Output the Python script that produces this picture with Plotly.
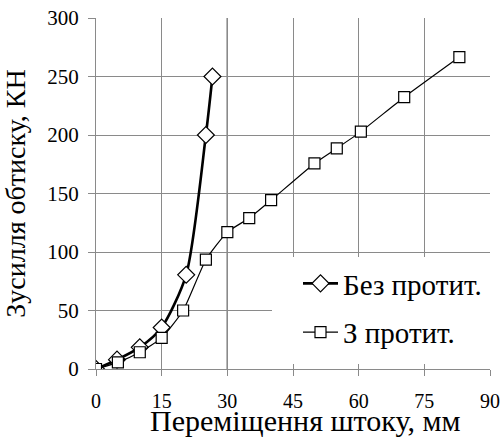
import plotly.graph_objects as go

# Data
x_without = [0, 4.8, 10, 15, 20.6, 25.1, 26.6]
y_without = [0, 8, 18.5, 35.5, 80.5, 200, 250]

x_with = [0, 5, 10, 15, 19.9, 25.1, 30, 35, 40, 49.9, 55, 60.5, 70.4, 83]
y_with = [0, 5.7, 14.3, 26.6, 50, 93.4, 117, 129, 144.3, 175.7, 188.6, 202.9, 232.3, 266.6]

x_ticks = [0, 15, 30, 45, 60, 75, 90]
y_ticks = [0, 50, 100, 150, 200, 250, 300]

name_without = "Без протит."
name_with = "З протит."
x_title = "Переміщення штоку, мм"
y_title = "Зусилля обтиску, КН"

FONT = "Liberation Serif"
GRID = "#8a8a8a"

# plot area spans px 96..490 x 18..369
fig = go.Figure()
fig.add_trace(go.Scatter(
    x=x_without, y=y_without, name=name_without, mode="lines+markers",
    line=dict(color="black", width=2.6, shape="spline", smoothing=0.7),
    marker=dict(symbol="diamond", size=13, color="white", line=dict(color="black", width=1.2)),
    legendgroup="a",
))
fig.add_trace(go.Scatter(
    x=x_with, y=y_with, name=name_with, mode="lines+markers",
    line=dict(color="black", width=1.2, shape="spline", smoothing=0.5),
    marker=dict(symbol="square", size=11, color="white", line=dict(color="black", width=1.2)),
    legendgroup="b",
))

# black gridline at x = 30 (below data)
fig.add_shape(type="line", xref="x", yref="y", x0=30, x1=30, y0=-10, y1=300,
              line=dict(color="black", width=1.2), layer="below")
# white area behind legend covering grid
fig.add_shape(type="rect", xref="paper", yref="paper",
              x0=(272 - 96) / 394, x1=(496 - 96) / 394,
              y0=(369 - 364) / 351, y1=(369 - 257) / 351,
              fillcolor="white", line=dict(width=0), layer="above")

fig.add_annotation(text=x_title, xref="paper", yref="paper",
                   x=(305 - 96) / 394, y=(369 - 420) / 351,
                   xanchor="center", yanchor="middle", showarrow=False,
                   font=dict(family=FONT, size=30, color="black"))

fig.update_layout(
    width=502, height=439,
    margin=dict(l=96, r=12, t=18, b=70, autoexpand=False),
    paper_bgcolor="white", plot_bgcolor="white",
    font=dict(family=FONT, size=20, color="black"),
    showlegend=True,
    legend=dict(x=(298 - 96) / 394, y=(369 - 258) / 351, xanchor="left", yanchor="top",
                bgcolor="rgba(0,0,0,0)", font=dict(family=FONT, size=29, color="black"),
                tracegroupgap=8, itemwidth=35),
    xaxis=dict(range=[0, 90], tickvals=x_ticks, showgrid=True, gridcolor=GRID, gridwidth=1,
               zeroline=False, showline=True, linecolor=GRID, mirror=False, automargin=False,
               ticks="outside", ticklen=6, tickcolor=GRID, ticklabelstandoff=8,
               ticklabeloverflow="allow",
               tickfont=dict(family=FONT, size=20, color="black")),
    yaxis=dict(range=[0, 300], tickvals=y_ticks, showgrid=True, gridcolor=GRID, gridwidth=1,
               zeroline=False, showline=True, linecolor=GRID, automargin=False,
               ticks="outside", ticklen=7, tickcolor=GRID, ticklabelstandoff=5,
               ticklabeloverflow="allow",
               tickfont=dict(family=FONT, size=21, color="black"),
               title=dict(text=y_title, font=dict(family=FONT, size=28, color="black"), standoff=30)),
)

fig.write_html(
    "out.html",
    config={"displayModeBar": False},
    post_script="document.body.style.margin='0';document.body.style.overflow='hidden';"
                "document.documentElement.style.overflow='hidden';",
)
